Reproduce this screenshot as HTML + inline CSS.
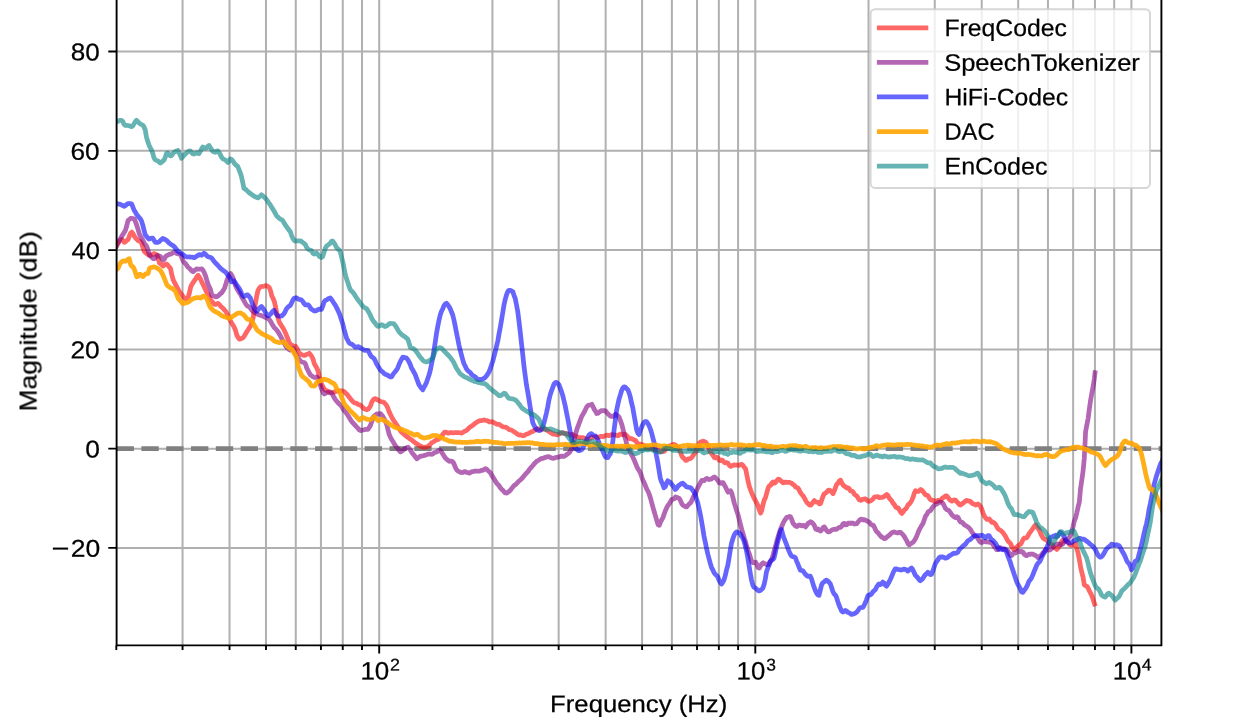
<!DOCTYPE html>
<html><head><meta charset="utf-8"><title>Frequency response</title>
<style>html,body{margin:0;padding:0;background:#fff}svg{display:block}text{font-family:"Liberation Sans",sans-serif;fill:#000;stroke:#000;stroke-width:0.25px}</style></head><body>
<svg width="1244" height="720" viewBox="0 0 1244 720">
<rect width="1244" height="720" fill="#fff"/>
<defs><clipPath id="ax"><rect x="116.6" y="-10" width="1044.8000000000002" height="655.4"/></clipPath></defs>
<path d="M182.55 -5V645.4M229.53 -5V645.4M265.98 -5V645.4M295.76 -5V645.4M320.94 -5V645.4M342.75 -5V645.4M361.99 -5V645.4M379.20 -5V645.4M492.42 -5V645.4M558.65 -5V645.4M605.63 -5V645.4M642.08 -5V645.4M671.86 -5V645.4M697.04 -5V645.4M718.85 -5V645.4M738.09 -5V645.4M755.30 -5V645.4M868.52 -5V645.4M934.75 -5V645.4M981.73 -5V645.4M1018.18 -5V645.4M1047.96 -5V645.4M1073.14 -5V645.4M1094.95 -5V645.4M1114.19 -5V645.4M1131.40 -5V645.4M116.6 51.57H1161.4M116.6 150.84H1161.4M116.6 250.11H1161.4M116.6 349.38H1161.4M116.6 448.65H1161.4M116.6 547.92H1161.4" stroke="#b0b0b0" stroke-width="2.0" fill="none"/>
<path d="M116.6 448.55H1161.4" stroke="#808080" stroke-width="4.7" stroke-dasharray="17.35 7.46" fill="none" clip-path="url(#ax)"/>
<g clip-path="url(#ax)" fill="none" stroke-linejoin="round" stroke-linecap="butt">
<path d="M115.6,248.0 116.8,245.3 118.1,243.5 119.3,241.4 120.6,240.4 121.8,239.4 123.1,240.8 124.3,242.3 125.6,241.6 126.8,240.4 128.1,239.5 129.3,236.3 130.6,233.3 131.8,232.1 133.1,233.8 134.3,236.2 135.6,238.0 136.8,239.2 138.1,240.6 139.3,241.2 140.6,241.5 141.8,243.8 143.1,248.0 144.3,251.4 145.6,252.7 146.8,253.7 148.1,254.8 149.3,255.2 150.6,255.5 151.8,254.8 153.1,253.8 154.3,253.7 155.6,254.3 156.8,254.7 158.1,257.8 159.3,262.8 160.6,263.8 161.8,264.8 163.1,266.0 164.3,265.1 165.6,264.0 166.8,264.0 168.1,265.5 169.3,267.0 170.6,268.7 171.8,274.7 173.1,279.6 174.3,282.2 175.6,284.6 176.8,286.8 178.1,289.3 179.3,291.5 180.6,293.1 181.8,294.8 183.1,296.5 184.3,297.9 185.6,298.9 186.8,298.1 188.1,297.4 189.3,293.5 190.6,287.2 191.8,284.6 193.1,282.6 194.3,280.7 195.6,279.0 196.8,276.8 198.1,275.2 199.3,277.0 200.6,279.2 201.8,282.1 203.1,284.5 204.3,287.2 205.6,289.9 206.8,292.5 208.1,295.0 209.3,297.5 210.6,299.8 211.8,301.5 213.1,302.8 214.3,304.4 215.6,304.4 216.8,303.8 218.1,303.4 219.3,304.5 220.6,306.1 221.8,307.3 223.1,308.4 224.3,309.8 225.6,311.2 226.8,313.0 228.1,315.6 229.3,318.5 230.6,321.0 231.8,323.2 233.1,325.3 234.3,327.4 235.6,330.6 236.8,335.1 238.1,337.5 239.3,339.1 240.6,338.9 241.8,338.2 243.1,337.7 244.3,336.0 245.6,333.8 246.8,331.8 248.1,329.7 249.3,327.8 250.6,325.9 251.8,322.0 253.1,318.0 254.3,310.1 255.6,302.2 256.8,295.8 258.1,290.1 259.3,288.1 260.6,286.8 261.8,286.4 263.1,286.5 264.3,286.2 265.6,285.6 266.8,285.9 268.1,286.5 269.3,287.5 270.6,291.0 271.8,295.9 273.1,298.5 274.3,301.4 275.6,307.0 276.8,313.5 278.1,318.1 279.3,322.2 280.6,324.3 281.8,326.2 283.1,328.2 284.3,330.5 285.6,333.2 286.8,336.3 288.1,339.3 289.3,342.4 290.6,344.6 291.8,345.0 293.1,345.9 294.3,346.7 295.6,346.2 296.8,348.0 298.1,351.2 299.3,353.2 300.6,353.9 301.8,354.8 303.1,355.1 304.3,355.3 305.6,355.1 306.8,354.3 308.1,354.0 309.3,353.3 310.6,354.8 311.8,356.5 313.1,359.3 314.3,363.6 315.6,366.0 316.8,367.9 318.1,371.4 319.3,376.6 320.6,381.4 321.8,384.7 323.1,386.9 324.3,389.2 325.6,390.0 326.8,390.7 328.1,391.4 329.3,391.7 330.6,392.2 331.8,392.5 333.1,392.4 334.3,392.1 335.6,391.5 336.8,391.2 338.1,391.1 339.3,390.9 340.6,390.9 341.8,390.8 343.1,391.0 344.3,391.7 345.6,393.1 346.8,394.1 348.1,395.7 349.3,397.3 350.6,398.9 351.8,400.4 353.1,401.8 354.3,402.8 355.6,403.0 356.8,403.5 358.1,404.4 359.3,404.8 360.6,405.3 361.8,406.5 363.1,407.9 364.3,408.9 365.6,409.4 366.8,409.6 368.1,409.3 369.3,407.8 370.6,405.6 371.8,402.0 373.1,399.9 374.3,398.9 375.6,398.7 376.8,399.5 378.1,400.1 379.3,400.8 380.6,401.4 381.8,401.8 383.1,402.1 384.3,402.7 385.6,404.2 386.8,405.9 388.1,408.8 389.3,412.1 390.6,414.8 391.8,417.2 393.1,419.7 394.3,421.4 395.6,423.3 396.8,425.3 398.1,427.0 399.3,428.8 400.6,431.0 401.8,432.2 403.1,433.4 404.3,434.6 405.6,435.6 406.8,436.7 408.1,437.4 409.3,438.4 410.6,439.2 411.8,440.0 413.1,441.1 414.3,442.2 415.6,443.2 416.8,443.8 418.1,444.7 419.3,445.5 420.6,445.9 421.8,446.7 423.1,447.1 424.3,447.3 425.6,447.0 426.8,446.7 428.1,446.4 429.3,445.4 430.6,444.0 431.8,442.7 433.1,442.0 434.3,441.3 435.6,440.2 436.8,439.7 438.1,439.6 439.3,438.7 440.6,437.5 441.8,435.9 443.1,433.9 444.3,432.4 445.6,432.2 446.8,432.5 448.1,433.1 449.3,432.9 450.6,432.6 451.8,432.7 453.1,432.8 454.3,432.7 455.6,432.5 456.8,432.5 458.1,432.7 459.3,432.7 460.6,433.0 461.8,433.2 463.1,432.2 464.3,431.4 465.6,430.8 466.8,430.2 468.1,429.0 469.3,427.7 470.6,426.7 471.8,425.9 473.1,425.2 474.3,423.9 475.6,423.1 476.8,422.2 478.1,421.4 479.3,420.8 480.6,420.5 481.8,420.5 483.1,420.2 484.3,420.0 485.6,420.3 486.8,420.5 488.1,421.1 489.3,421.9 490.6,421.9 491.8,421.7 493.1,422.1 494.3,422.8 495.6,423.5 496.8,424.2 498.1,424.3 499.3,424.3 500.6,425.3 501.8,426.3 503.1,426.8 504.3,427.0 505.6,427.2 506.8,427.7 508.1,428.7 509.3,429.7 510.6,429.9 511.8,430.2 513.1,431.1 514.3,431.9 515.6,432.8 516.8,433.7 518.1,434.7 519.3,435.0 520.6,434.8 521.8,435.4 523.1,435.8 524.3,435.5 525.6,434.6 526.8,434.0 528.1,433.7 529.3,433.1 530.6,432.3 531.8,431.8 533.1,431.1 534.3,430.4 535.6,429.8 536.8,429.0 538.1,428.6 539.3,429.2 540.6,429.2 541.8,429.3 543.1,429.2 544.3,428.8 545.6,429.1 546.8,430.1 548.1,431.0 549.3,431.7 550.6,432.5 551.8,433.4 553.1,434.1 554.3,433.9 555.6,434.4 556.8,434.8 558.1,434.3 559.3,433.9 560.6,433.5 561.8,432.9 563.1,432.8 564.3,433.3 565.6,433.8 566.8,433.5 568.1,434.3 569.3,435.2 570.6,434.8 571.8,434.3 573.1,434.7 574.3,435.9 575.6,436.2 576.8,436.6 578.1,437.4 579.3,437.7 580.6,437.7 581.8,437.5 583.1,437.5 584.3,438.2 585.6,438.7 586.8,439.0 588.1,439.3 589.3,439.3 590.6,438.1 591.8,437.0 593.1,437.3 594.3,437.2 595.6,436.9 596.8,437.0 598.1,437.5 599.3,437.1 600.6,436.3 601.8,436.4 603.1,436.8 604.3,436.1 605.6,435.5 606.8,435.2 608.1,435.4 609.3,435.7 610.6,434.9 611.8,434.7 613.1,434.7 614.3,435.0 615.6,435.0 616.8,435.5 618.1,435.9 619.3,434.6 620.6,434.0 621.8,434.6 623.1,434.8 624.3,434.1 625.6,434.5 626.8,435.8 628.1,437.2 629.3,438.6 630.6,438.5 631.8,438.6 633.1,439.5 634.3,440.0 635.6,440.5 636.8,442.5 638.1,443.7 639.3,444.0 640.6,444.1 641.8,444.5 643.1,444.9 644.3,445.9 645.6,447.4 646.8,447.2 648.1,447.1 649.3,447.4 650.6,448.0 651.8,448.3 653.1,448.5 654.3,449.7 655.6,449.8 656.8,449.6 658.1,449.9 659.3,450.9 660.6,451.8 661.8,451.1 663.1,451.6 664.3,451.2 665.6,449.6 666.8,447.9 668.1,446.4 669.3,446.0 670.6,445.6 671.8,445.5 673.1,444.3 674.3,444.5 675.6,445.1 676.8,446.3 678.1,447.4 679.3,449.3 680.6,452.7 681.8,456.0 683.1,457.8 684.3,458.6 685.6,460.4 686.8,460.2 688.1,458.9 689.3,458.8 690.6,458.4 691.8,457.3 693.1,455.5 694.3,453.9 695.6,452.1 696.8,449.0 698.1,445.9 699.3,443.4 700.6,441.9 701.8,441.9 703.1,441.2 704.3,441.6 705.6,442.2 706.8,443.9 708.1,446.8 709.3,450.4 710.6,452.5 711.8,453.8 713.1,455.5 714.3,457.7 715.6,457.9 716.8,457.1 718.1,458.1 719.3,460.2 720.6,460.7 721.8,460.0 723.1,461.0 724.3,462.5 725.6,462.9 726.8,462.7 728.1,463.4 729.3,465.4 730.6,466.4 731.8,465.8 733.1,465.2 734.3,464.9 735.6,465.2 736.8,465.0 738.1,465.2 739.3,465.3 740.6,464.5 741.8,464.3 743.1,465.7 744.3,467.4 745.6,468.8 746.8,474.9 748.1,481.4 749.3,486.2 750.6,490.0 751.8,493.2 753.1,496.1 754.3,498.7 755.6,501.0 756.8,503.3 758.1,506.1 759.3,509.9 760.6,513.0 761.8,510.2 763.1,504.2 764.3,500.0 765.6,497.2 766.8,492.9 768.1,488.1 769.3,485.7 770.6,485.4 771.8,483.0 773.1,481.9 774.3,483.2 775.6,482.4 776.8,480.7 778.1,479.2 779.3,479.3 780.6,480.6 781.8,481.6 783.1,482.9 784.3,482.4 785.6,482.1 786.8,482.4 788.1,482.4 789.3,482.4 790.6,482.7 791.8,483.4 793.1,484.5 794.3,485.2 795.6,487.1 796.8,487.5 798.1,488.2 799.3,490.3 800.6,492.8 801.8,494.5 803.1,495.9 804.3,497.7 805.6,500.4 806.8,502.4 808.1,503.7 809.3,505.0 810.6,505.2 811.8,504.1 813.1,502.0 814.3,500.6 815.6,501.7 816.8,502.2 818.1,502.3 819.3,503.9 820.6,503.5 821.8,499.7 823.1,496.1 824.3,493.6 825.6,493.1 826.8,492.0 828.1,490.4 829.3,490.1 830.6,490.8 831.8,492.1 833.1,493.6 834.3,490.9 835.6,487.2 836.8,484.2 838.1,483.1 839.3,480.8 840.6,480.2 841.8,482.9 843.1,485.0 844.3,486.2 845.6,486.9 846.8,488.0 848.1,487.8 849.3,489.0 850.6,490.9 851.8,491.0 853.1,491.9 854.3,494.2 855.6,495.3 856.8,496.0 858.1,498.0 859.3,499.9 860.6,500.4 861.8,499.8 863.1,499.3 864.3,498.9 865.6,498.8 866.8,500.1 868.1,501.1 869.3,501.3 870.6,501.0 871.8,499.9 873.1,498.9 874.3,497.3 875.6,496.8 876.8,496.9 878.1,496.7 879.3,497.7 880.6,497.5 881.8,497.4 883.1,497.1 884.3,496.5 885.6,495.3 886.8,494.5 888.1,495.8 889.3,498.1 890.6,499.6 891.8,501.1 893.1,503.3 894.3,504.5 895.6,506.7 896.8,507.9 898.1,507.8 899.3,509.8 900.6,512.2 901.8,513.5 903.1,512.0 904.3,509.9 905.6,509.1 906.8,507.4 908.1,504.7 909.3,503.9 910.6,502.4 911.8,500.4 913.1,497.2 914.3,493.2 915.6,490.7 916.8,491.4 918.1,491.5 919.3,490.6 920.6,489.5 921.8,490.3 923.1,491.6 924.3,493.3 925.6,494.9 926.8,495.0 928.1,495.9 929.3,498.1 930.6,499.8 931.8,500.0 933.1,500.5 934.3,500.5 935.6,501.6 936.8,501.6 938.1,500.2 939.3,500.9 940.6,501.0 941.8,498.8 943.1,497.6 944.3,497.3 945.6,495.8 946.8,495.9 948.1,497.5 949.3,499.2 950.6,500.5 951.8,501.1 953.1,500.4 954.3,499.8 955.6,500.2 956.8,501.8 958.1,503.0 959.3,504.7 960.6,505.0 961.8,504.0 963.1,503.0 964.3,502.2 965.6,500.9 966.8,500.3 968.1,501.1 969.3,501.1 970.6,501.5 971.8,503.1 973.1,503.8 974.3,504.3 975.6,505.1 976.8,504.5 978.1,504.0 979.3,505.0 980.6,506.5 981.8,509.2 983.1,513.2 984.3,515.9 985.6,517.8 986.8,519.4 988.1,519.4 989.3,519.0 990.6,520.8 991.8,522.3 993.1,522.2 994.3,523.0 995.6,524.4 996.8,526.7 998.1,528.8 999.3,529.7 1000.6,530.3 1001.8,531.4 1003.1,532.8 1004.3,534.6 1005.6,536.5 1006.8,539.1 1008.1,541.2 1009.3,542.3 1010.6,543.8 1011.8,546.5 1013.1,548.8 1014.3,549.5 1015.6,549.3 1016.8,546.9 1018.1,545.7 1019.3,544.9 1020.6,544.2 1021.8,542.3 1023.1,539.4 1024.3,538.0 1025.6,538.1 1026.8,537.7 1028.1,535.6 1029.3,533.3 1030.6,531.7 1031.8,530.0 1033.1,528.2 1034.3,526.3 1035.6,525.0 1036.8,527.1 1038.1,528.3 1039.3,530.2 1040.6,533.4 1041.8,535.9 1043.1,538.0 1044.3,539.1 1045.6,539.3 1046.8,540.3 1048.1,541.7 1049.3,543.4 1050.6,544.4 1051.8,544.5 1053.1,546.2 1054.3,547.7 1055.6,548.2 1056.8,549.4 1058.1,548.1 1059.3,546.2 1060.6,544.2 1061.8,541.2 1063.1,539.7 1064.3,540.6 1065.6,541.5 1066.8,541.7 1068.1,542.3 1069.3,544.2 1070.6,545.1 1071.8,545.2 1073.1,545.2 1074.3,544.4 1075.6,543.8 1076.8,548.3 1078.1,553.2 1079.3,559.3 1080.6,566.9 1081.8,572.4 1083.1,577.4 1084.3,585.0 1085.6,585.7 1086.8,586.3 1088.1,587.9 1089.3,590.9 1090.6,593.2 1091.8,595.6 1093.1,599.3 1094.3,603.2 1095.3,606.3" stroke="#ff0000" stroke-opacity="0.6" stroke-width="4.75"/>
<path d="M115.6,248.3 116.8,244.4 118.1,242.3 119.3,240.4 120.6,238.3 121.8,236.1 123.1,234.2 124.3,232.3 125.6,229.8 126.8,225.5 128.1,220.4 129.3,219.6 130.6,218.4 131.8,218.3 133.1,218.7 134.3,218.9 135.6,222.1 136.8,225.4 138.1,229.4 139.3,233.8 140.6,236.5 141.8,238.4 143.1,240.9 144.3,243.2 145.6,244.9 146.8,246.6 148.1,250.5 149.3,254.5 150.6,256.2 151.8,257.3 153.1,258.6 154.3,258.7 155.6,257.4 156.8,255.8 158.1,255.6 159.3,256.0 160.6,256.6 161.8,258.2 163.1,260.0 164.3,259.2 165.6,256.5 166.8,255.6 168.1,255.0 169.3,254.4 170.6,254.1 171.8,253.6 173.1,252.6 174.3,252.1 175.6,252.6 176.8,253.5 178.1,253.9 179.3,254.0 180.6,254.5 181.8,257.6 183.1,261.0 184.3,262.7 185.6,263.7 186.8,265.6 188.1,267.2 189.3,268.2 190.6,269.5 191.8,271.0 193.1,271.7 194.3,270.7 195.6,269.5 196.8,268.9 198.1,269.2 199.3,269.1 200.6,269.1 201.8,268.8 203.1,270.4 204.3,272.8 205.6,276.0 206.8,280.2 208.1,284.2 209.3,286.9 210.6,289.8 211.8,295.2 213.1,295.7 214.3,296.3 215.6,296.8 216.8,296.6 218.1,295.9 219.3,294.8 220.6,293.6 221.8,292.6 223.1,290.7 224.3,288.6 225.6,285.0 226.8,280.6 228.1,277.5 229.3,275.2 230.6,273.5 231.8,275.3 233.1,278.0 234.3,282.2 235.6,285.8 236.8,288.5 238.1,290.8 239.3,292.6 240.6,294.5 241.8,297.0 243.1,299.2 244.3,301.4 245.6,303.7 246.8,305.5 248.1,306.4 249.3,307.0 250.6,308.4 251.8,310.3 253.1,311.8 254.3,312.3 255.6,312.9 256.8,313.8 258.1,314.5 259.3,314.9 260.6,315.4 261.8,315.7 263.1,316.4 264.3,316.9 265.6,317.5 266.8,318.1 268.1,318.7 269.3,319.5 270.6,321.4 271.8,323.7 273.1,325.8 274.3,327.7 275.6,328.8 276.8,330.2 278.1,332.0 279.3,334.0 280.6,336.3 281.8,338.7 283.1,340.9 284.3,343.2 285.6,345.9 286.8,347.6 288.1,348.3 289.3,349.7 290.6,350.2 291.8,348.4 293.1,348.2 294.3,351.2 295.6,354.2 296.8,356.3 298.1,357.8 299.3,359.5 300.6,361.0 301.8,362.0 303.1,362.3 304.3,362.5 305.6,364.2 306.8,368.2 308.1,370.7 309.3,373.1 310.6,375.1 311.8,375.8 313.1,376.9 314.3,377.5 315.6,377.3 316.8,377.0 318.1,378.6 319.3,382.2 320.6,385.9 321.8,389.4 323.1,392.6 324.3,394.0 325.6,393.3 326.8,392.6 328.1,392.3 329.3,392.6 330.6,392.8 331.8,393.3 333.1,395.6 334.3,397.9 335.6,399.8 336.8,401.4 338.1,402.8 339.3,404.1 340.6,405.3 341.8,406.5 343.1,409.1 344.3,410.9 345.6,411.9 346.8,413.8 348.1,415.8 349.3,417.6 350.6,419.9 351.8,421.7 353.1,423.0 354.3,424.5 355.6,425.8 356.8,427.1 358.1,428.4 359.3,429.9 360.6,430.5 361.8,430.0 363.1,430.0 364.3,429.7 365.6,429.4 366.8,429.4 368.1,429.3 369.3,427.3 370.6,425.0 371.8,421.5 373.1,417.2 374.3,416.0 375.6,414.8 376.8,413.9 378.1,414.2 379.3,413.9 380.6,413.7 381.8,415.0 383.1,416.9 384.3,418.9 385.6,421.7 386.8,425.0 388.1,430.2 389.3,434.8 390.6,437.5 391.8,439.8 393.1,441.8 394.3,443.9 395.6,446.0 396.8,447.5 398.1,448.8 399.3,450.7 400.6,451.9 401.8,451.1 403.1,450.1 404.3,448.8 405.6,448.1 406.8,447.5 408.1,447.2 409.3,448.7 410.6,450.3 411.8,452.4 413.1,454.0 414.3,455.5 415.6,457.3 416.8,458.8 418.1,457.9 419.3,456.9 420.6,456.2 421.8,456.1 423.1,455.8 424.3,455.4 425.6,455.1 426.8,454.6 428.1,454.2 429.3,454.0 430.6,454.2 431.8,454.3 433.1,453.7 434.3,452.6 435.6,452.2 436.8,451.7 438.1,450.8 439.3,450.1 440.6,450.5 441.8,452.5 443.1,454.6 444.3,456.5 445.6,458.2 446.8,459.4 448.1,460.5 449.3,461.3 450.6,461.2 451.8,461.2 453.1,462.1 454.3,464.6 455.6,467.9 456.8,470.0 458.1,471.1 459.3,471.6 460.6,472.3 461.8,472.5 463.1,472.3 464.3,471.7 465.6,471.7 466.8,472.4 468.1,472.7 469.3,473.1 470.6,472.4 471.8,471.7 473.1,471.6 474.3,471.1 475.6,471.0 476.8,471.2 478.1,471.2 479.3,471.2 480.6,470.8 481.8,470.3 483.1,470.1 484.3,469.4 485.6,468.7 486.8,469.3 488.1,470.8 489.3,471.8 490.6,473.0 491.8,475.4 493.1,477.4 494.3,479.2 495.6,481.6 496.8,483.5 498.1,484.6 499.3,486.1 500.6,488.1 501.8,489.4 503.1,490.6 504.3,492.0 505.6,493.0 506.8,493.1 508.1,492.1 509.3,491.3 510.6,490.1 511.8,488.2 513.1,486.7 514.3,485.3 515.6,484.6 516.8,483.3 518.1,481.9 519.3,480.8 520.6,479.7 521.8,478.6 523.1,477.1 524.3,475.5 525.6,473.9 526.8,472.8 528.1,471.4 529.3,469.5 530.6,468.0 531.8,466.8 533.1,465.3 534.3,463.6 535.6,462.4 536.8,461.2 538.1,460.5 539.3,459.8 540.6,458.9 541.8,458.3 543.1,458.3 544.3,457.8 545.6,457.3 546.8,456.9 548.1,456.7 549.3,456.8 550.6,457.6 551.8,458.1 553.1,458.3 554.3,458.1 555.6,457.5 556.8,457.3 558.1,457.2 559.3,456.9 560.6,456.4 561.8,456.1 563.1,456.4 564.3,456.3 565.6,455.4 566.8,454.5 568.1,453.6 569.3,452.7 570.6,450.7 571.8,448.5 573.1,444.6 574.3,439.6 575.6,433.9 576.8,429.7 578.1,426.2 579.3,422.8 580.6,419.4 581.8,416.2 583.1,414.1 584.3,412.0 585.6,409.2 586.8,406.7 588.1,405.5 589.3,405.0 590.6,404.9 591.8,404.3 593.1,406.9 594.3,409.4 595.6,411.4 596.8,413.6 598.1,413.2 599.3,412.1 600.6,411.0 601.8,410.6 603.1,410.8 604.3,410.5 605.6,410.9 606.8,412.5 608.1,414.0 609.3,415.1 610.6,416.2 611.8,416.3 613.1,416.4 614.3,415.6 615.6,414.2 616.8,415.3 618.1,416.1 619.3,417.6 620.6,421.1 621.8,424.6 623.1,429.4 624.3,434.7 625.6,439.5 626.8,444.5 628.1,447.7 629.3,450.2 630.6,453.1 631.8,455.2 633.1,457.7 634.3,460.3 635.6,463.5 636.8,466.5 638.1,469.2 639.3,470.9 640.6,473.5 641.8,477.1 643.1,480.7 644.3,482.9 645.6,486.1 646.8,489.2 648.1,491.4 649.3,494.5 650.6,498.5 651.8,503.1 653.1,507.9 654.3,512.0 655.6,516.4 656.8,520.6 658.1,524.7 659.3,525.3 660.6,522.0 661.8,519.6 663.1,517.3 664.3,513.6 665.6,510.2 666.8,507.5 668.1,505.2 669.3,503.7 670.6,501.6 671.8,499.4 673.1,499.2 674.3,498.8 675.6,496.9 676.8,497.3 678.1,497.9 679.3,498.4 680.6,500.9 681.8,503.8 683.1,505.4 684.3,506.0 685.6,506.8 686.8,506.8 688.1,505.1 689.3,503.9 690.6,502.8 691.8,500.6 693.1,497.4 694.3,495.3 695.6,493.0 696.8,489.9 698.1,487.0 699.3,484.8 700.6,482.3 701.8,480.4 703.1,480.4 704.3,480.6 705.6,479.0 706.8,478.4 708.1,479.0 709.3,479.5 710.6,479.2 711.8,478.7 713.1,477.7 714.3,476.9 715.6,477.8 716.8,479.2 718.1,480.7 719.3,482.8 720.6,483.3 721.8,482.7 723.1,482.7 724.3,484.8 725.6,487.2 726.8,489.6 728.1,492.2 729.3,491.6 730.6,490.8 731.8,493.3 733.1,498.1 734.3,503.1 735.6,507.3 736.8,511.3 738.1,515.1 739.3,519.8 740.6,525.1 741.8,529.7 743.1,533.9 744.3,538.2 745.6,542.1 746.8,546.5 748.1,550.7 749.3,553.8 750.6,558.1 751.8,561.8 753.1,562.7 754.3,562.6 755.6,562.2 756.8,564.4 758.1,567.5 759.3,568.0 760.6,565.8 761.8,563.8 763.1,562.8 764.3,563.7 765.6,563.9 766.8,564.8 768.1,564.7 769.3,562.6 770.6,561.0 771.8,558.9 773.1,554.9 774.3,550.4 775.6,546.0 776.8,541.1 778.1,536.8 779.3,533.0 780.6,529.0 781.8,526.2 783.1,523.2 784.3,520.8 785.6,519.0 786.8,517.4 788.1,517.2 789.3,516.4 790.6,516.8 791.8,519.7 793.1,523.4 794.3,524.7 795.6,526.1 796.8,526.5 798.1,525.5 799.3,525.0 800.6,525.3 801.8,525.9 803.1,525.4 804.3,525.6 805.6,526.9 806.8,525.3 808.1,523.2 809.3,522.7 810.6,521.7 811.8,522.4 813.1,523.7 814.3,525.4 815.6,529.0 816.8,529.5 818.1,528.9 819.3,530.4 820.6,531.0 821.8,529.8 823.1,527.6 824.3,526.9 825.6,528.9 826.8,530.8 828.1,531.8 829.3,531.9 830.6,531.0 831.8,530.0 833.1,529.6 834.3,529.2 835.6,529.4 836.8,529.1 838.1,528.0 839.3,527.4 840.6,527.3 841.8,526.1 843.1,523.7 844.3,523.3 845.6,524.9 846.8,524.6 848.1,523.1 849.3,523.1 850.6,523.5 851.8,523.0 853.1,523.1 854.3,524.0 855.6,523.9 856.8,523.7 858.1,521.9 859.3,520.4 860.6,519.4 861.8,519.1 863.1,520.0 864.3,519.6 865.6,520.2 866.8,521.1 868.1,521.5 869.3,522.2 870.6,524.0 871.8,525.0 873.1,525.0 874.3,527.0 875.6,529.9 876.8,531.8 878.1,532.8 879.3,534.5 880.6,536.0 881.8,537.2 883.1,537.6 884.3,538.6 885.6,538.4 886.8,537.2 888.1,536.0 889.3,535.2 890.6,533.9 891.8,532.9 893.1,532.2 894.3,531.9 895.6,532.4 896.8,532.8 898.1,532.8 899.3,532.3 900.6,532.4 901.8,533.6 903.1,534.9 904.3,536.5 905.6,538.8 906.8,540.9 908.1,543.9 909.3,544.9 910.6,543.7 911.8,543.1 913.1,542.1 914.3,540.7 915.6,538.6 916.8,536.0 918.1,532.5 919.3,529.7 920.6,527.4 921.8,525.3 923.1,523.3 924.3,519.7 925.6,516.0 926.8,514.5 928.1,512.0 929.3,511.1 930.6,510.5 931.8,508.5 933.1,506.7 934.3,505.3 935.6,504.4 936.8,504.2 938.1,502.8 939.3,502.1 940.6,502.2 941.8,502.7 943.1,503.7 944.3,506.0 945.6,508.6 946.8,509.7 948.1,510.0 949.3,511.1 950.6,512.9 951.8,514.7 953.1,516.0 954.3,517.0 955.6,517.6 956.8,516.6 958.1,517.5 959.3,520.3 960.6,522.0 961.8,522.0 963.1,523.2 964.3,524.8 965.6,525.5 966.8,526.3 968.1,527.1 969.3,528.2 970.6,529.8 971.8,531.9 973.1,533.6 974.3,535.7 975.6,536.1 976.8,536.9 978.1,538.9 979.3,541.0 980.6,542.4 981.8,542.5 983.1,541.5 984.3,541.4 985.6,541.8 986.8,541.6 988.1,542.1 989.3,542.2 990.6,542.5 991.8,543.0 993.1,544.6 994.3,546.8 995.6,548.1 996.8,549.7 998.1,549.4 999.3,547.6 1000.6,547.6 1001.8,548.6 1003.1,549.1 1004.3,549.0 1005.6,549.3 1006.8,550.2 1008.1,551.1 1009.3,553.8 1010.6,555.5 1011.8,555.6 1013.1,553.5 1014.3,552.6 1015.6,553.0 1016.8,551.9 1018.1,550.6 1019.3,551.1 1020.6,551.9 1021.8,551.5 1023.1,552.3 1024.3,554.3 1025.6,555.2 1026.8,555.7 1028.1,554.7 1029.3,554.1 1030.6,554.3 1031.8,554.0 1033.1,554.2 1034.3,554.9 1035.6,555.5 1036.8,556.5 1038.1,557.6 1039.3,556.5 1040.6,555.8 1041.8,554.6 1043.1,552.7 1044.3,551.5 1045.6,549.7 1046.8,549.3 1048.1,549.9 1049.3,550.2 1050.6,549.4 1051.8,548.3 1053.1,547.4 1054.3,545.4 1055.6,544.6 1056.8,544.6 1058.1,543.8 1059.3,544.0 1060.6,544.7 1061.8,544.6 1063.1,543.7 1064.3,541.9 1065.6,539.9 1066.8,539.4 1068.1,538.6 1069.3,537.5 1070.6,534.6 1071.8,531.4 1073.1,526.5 1074.3,521.1 1075.6,517.8 1076.8,513.0 1078.1,506.9 1079.3,502.1 1080.6,488.1 1081.8,480.1 1083.1,470.9 1084.3,458.2 1085.6,431.6 1086.8,425.3 1088.1,418.6 1089.3,409.1 1090.6,400.1 1091.8,393.3 1093.1,386.8 1094.3,378.8 1095.3,370.4" stroke="#800080" stroke-opacity="0.6" stroke-width="4.75"/>
<path d="M116.5,203.3 117.8,203.8 119.0,204.2 120.3,204.4 121.5,205.0 122.8,205.6 124.0,206.3 125.3,205.6 126.5,204.6 127.8,203.6 129.0,203.5 130.3,203.6 131.5,203.8 132.8,206.7 134.0,210.0 135.3,212.0 136.5,214.2 137.8,215.8 139.0,217.4 140.3,218.8 141.5,220.9 142.8,225.2 144.0,230.0 145.3,234.8 146.5,236.4 147.8,237.8 149.0,239.1 150.3,238.6 151.5,238.2 152.8,238.2 154.0,240.2 155.3,242.3 156.5,242.4 157.8,242.4 159.0,241.9 160.3,240.6 161.5,239.5 162.8,238.4 164.0,239.0 165.3,239.6 166.5,240.4 167.8,241.6 169.0,243.0 170.3,243.9 171.5,244.7 172.8,245.5 174.0,246.4 175.3,247.9 176.5,249.6 177.8,251.2 179.0,251.9 180.3,252.8 181.5,253.8 182.8,254.6 184.0,255.4 185.3,256.4 186.5,256.9 187.8,257.0 189.0,256.9 190.3,257.1 191.5,257.2 192.8,257.2 194.0,257.7 195.3,257.3 196.5,256.2 197.8,255.6 199.0,254.6 200.3,254.6 201.5,255.3 202.8,254.4 204.0,253.2 205.3,254.0 206.5,255.5 207.8,256.6 209.0,257.0 210.3,257.3 211.5,258.0 212.8,259.6 214.0,261.3 215.3,262.8 216.5,264.0 217.8,265.3 219.0,266.7 220.3,268.1 221.5,269.2 222.8,270.2 224.0,271.1 225.3,271.9 226.5,273.3 227.8,275.0 229.0,276.7 230.3,278.5 231.5,281.7 232.8,281.1 234.0,281.0 235.3,282.7 236.5,284.8 237.8,286.5 239.0,288.1 240.3,290.5 241.5,293.2 242.8,295.8 244.0,296.6 245.3,295.8 246.5,294.9 247.8,294.9 249.0,296.4 250.3,297.8 251.5,301.2 252.8,304.8 254.0,307.4 255.3,309.5 256.5,311.5 257.8,310.0 259.0,308.6 260.3,307.4 261.5,306.5 262.8,308.1 264.0,309.9 265.3,312.1 266.5,314.1 267.8,315.8 269.0,315.6 270.3,314.2 271.5,313.0 272.8,311.3 274.0,310.2 275.3,312.4 276.5,314.4 277.8,316.0 279.0,316.1 280.3,316.2 281.5,316.0 282.8,315.0 284.0,313.7 285.3,311.3 286.5,308.8 287.8,307.3 289.0,306.2 290.3,305.4 291.5,303.1 292.8,300.1 294.0,298.4 295.3,297.8 296.5,297.8 297.8,298.7 299.0,299.5 300.3,299.6 301.5,300.0 302.8,301.5 304.0,303.4 305.3,304.9 306.5,305.0 307.8,304.7 309.0,305.6 310.3,307.8 311.5,309.4 312.8,309.9 314.0,310.8 315.3,311.0 316.5,310.6 317.8,309.7 319.0,309.2 320.3,309.1 321.5,309.3 322.8,306.1 324.0,302.2 325.3,300.4 326.5,299.9 327.8,299.1 329.0,298.4 330.3,297.9 331.5,299.5 332.8,301.4 334.0,303.4 335.3,305.2 336.5,307.4 337.8,310.1 339.0,312.7 340.3,316.2 341.5,320.1 342.8,324.0 344.0,329.1 345.3,333.7 346.5,338.0 347.8,340.3 349.0,342.7 350.3,343.8 351.5,344.0 352.8,344.9 354.0,346.0 355.3,347.1 356.5,347.1 357.8,346.6 359.0,346.8 360.3,347.9 361.5,348.4 362.8,349.2 364.0,350.1 365.3,350.4 366.5,350.4 367.8,350.4 369.0,352.2 370.3,354.9 371.5,356.7 372.8,357.5 374.0,358.5 375.3,360.9 376.5,363.7 377.8,365.9 379.0,367.8 380.3,369.9 381.5,371.1 382.8,372.0 384.0,373.3 385.3,374.3 386.5,374.7 387.8,375.4 389.0,376.1 390.3,376.9 391.5,376.9 392.8,374.8 394.0,373.0 395.3,371.6 396.5,370.1 397.8,367.8 399.0,364.5 400.3,361.6 401.5,359.4 402.8,357.2 404.0,357.3 405.3,357.7 406.5,358.1 407.8,359.8 409.0,361.9 410.3,364.6 411.5,368.0 412.8,370.1 414.0,372.4 415.3,374.7 416.5,378.2 417.8,381.6 419.0,384.9 420.3,386.6 421.5,388.4 422.8,389.7 424.0,387.3 425.3,385.0 426.5,382.4 427.8,378.6 429.0,375.0 430.3,370.4 431.5,364.2 432.8,357.7 434.0,350.2 435.3,341.8 436.5,333.4 437.8,326.3 439.0,320.2 440.3,314.7 441.5,311.3 442.8,308.7 444.0,305.6 445.3,303.9 446.5,303.2 447.8,304.8 449.0,306.5 450.3,308.8 451.5,312.0 452.8,315.2 454.0,320.3 455.3,326.5 456.5,332.9 457.8,339.1 459.0,345.3 460.3,350.7 461.5,355.1 462.8,360.0 464.0,363.7 465.3,366.3 466.5,368.9 467.8,370.7 469.0,371.6 470.3,372.6 471.5,374.2 472.8,375.5 474.0,376.1 475.3,376.9 476.5,378.2 477.8,379.5 479.0,379.7 480.3,379.3 481.5,379.5 482.8,379.1 484.0,378.3 485.3,377.3 486.5,375.8 487.8,374.0 489.0,371.9 490.3,368.7 491.5,364.9 492.8,361.3 494.0,356.4 495.3,351.3 496.5,346.4 497.8,341.0 499.0,334.0 500.3,327.3 501.5,320.1 502.8,312.3 504.0,304.9 505.3,299.1 506.5,294.9 507.8,291.5 509.0,290.3 510.3,290.3 511.5,291.0 512.8,291.6 514.0,295.3 515.3,298.7 516.5,304.9 517.8,311.9 519.0,321.4 520.3,332.5 521.5,343.6 522.8,355.1 524.0,366.4 525.3,376.2 526.5,385.2 527.8,392.4 529.0,399.4 530.3,407.9 531.5,415.6 532.8,422.7 534.0,425.2 535.3,427.8 536.5,429.4 537.8,430.2 539.0,430.6 540.3,430.4 541.5,429.2 542.8,426.2 544.0,423.0 545.3,417.7 546.5,412.7 547.8,406.5 549.0,399.7 550.3,394.5 551.5,390.8 552.8,387.4 554.0,384.1 555.3,382.6 556.5,382.4 557.8,383.6 559.0,384.8 560.3,388.3 561.5,391.6 562.8,395.7 564.0,400.7 565.3,406.2 566.5,412.6 567.8,418.8 569.0,425.4 570.3,432.2 571.5,438.0 572.8,444.1 574.0,446.5 575.3,447.8 576.5,449.2 577.8,450.2 579.0,450.7 580.3,450.2 581.5,449.7 582.8,448.4 584.0,445.2 585.3,442.7 586.5,439.9 587.8,437.2 589.0,435.1 590.3,433.9 591.5,433.7 592.8,434.8 594.0,435.7 595.3,435.9 596.5,437.3 597.8,439.6 599.0,442.7 600.3,445.4 601.5,448.2 602.8,451.0 604.0,453.9 605.3,456.7 606.5,457.5 607.8,457.7 609.0,455.5 610.3,453.8 611.5,449.0 612.8,441.7 614.0,430.6 615.3,420.5 616.5,411.1 617.8,404.8 619.0,399.3 620.3,395.1 621.5,391.0 622.8,387.9 624.0,386.8 625.3,387.3 626.5,388.5 627.8,389.7 629.0,392.6 630.3,396.9 631.5,402.7 632.8,407.9 634.0,414.8 635.3,422.0 636.5,429.2 637.8,433.0 639.0,434.5 640.3,430.4 641.5,427.6 642.8,424.4 644.0,422.4 645.3,421.5 646.5,421.6 647.8,423.4 649.0,425.5 650.3,428.8 651.5,432.5 652.8,437.6 654.0,442.1 655.3,448.8 656.5,456.0 657.8,462.6 659.0,470.1 660.3,478.2 661.5,481.8 662.8,484.6 664.0,487.8 665.3,486.7 666.5,483.3 667.8,480.8 669.0,481.7 670.3,482.2 671.5,484.2 672.8,485.6 674.0,487.3 675.3,489.5 676.5,488.4 677.8,486.4 679.0,485.4 680.3,484.3 681.5,483.6 682.8,483.2 684.0,484.5 685.3,485.5 686.5,486.8 687.8,487.2 689.0,487.4 690.3,487.5 691.5,488.6 692.8,490.5 694.0,491.9 695.3,494.7 696.5,499.1 697.8,503.0 699.0,508.3 700.3,514.2 701.5,520.9 702.8,528.7 704.0,536.2 705.3,542.3 706.5,548.3 707.8,554.0 709.0,558.5 710.3,563.4 711.5,567.3 712.8,569.8 714.0,572.6 715.3,574.4 716.5,575.3 717.8,576.9 719.0,580.2 720.3,582.6 721.5,584.1 722.8,582.2 724.0,579.9 725.3,575.4 726.5,569.9 727.8,565.5 729.0,558.3 730.3,550.0 731.5,543.2 732.8,539.0 734.0,535.5 735.3,533.1 736.5,531.9 737.8,532.4 739.0,532.7 740.3,533.9 741.5,536.4 742.8,538.1 744.0,541.2 745.3,545.9 746.5,550.9 747.8,557.8 749.0,565.3 750.3,573.4 751.5,580.0 752.8,585.2 754.0,587.4 755.3,587.9 756.5,589.1 757.8,590.3 759.0,590.9 760.3,590.5 761.5,589.4 762.8,588.2 764.0,584.9 765.3,579.0 766.5,571.7 767.8,568.1 769.0,565.3 770.3,561.8 771.5,560.2 772.8,559.6 774.0,558.2 775.3,552.8 776.5,547.3 777.8,541.3 779.0,537.0 780.3,531.6 781.5,529.5 782.8,534.4 784.0,538.2 785.3,541.3 786.5,544.5 787.8,548.1 789.0,551.1 790.3,554.0 791.5,556.0 792.8,556.6 794.0,556.8 795.3,557.5 796.5,560.8 797.8,563.9 799.0,567.0 800.3,570.1 801.5,570.4 802.8,570.8 804.0,572.3 805.3,574.1 806.5,575.5 807.8,576.4 809.0,576.2 810.3,576.2 811.5,578.8 812.8,583.2 814.0,586.9 815.3,590.4 816.5,592.9 817.8,594.8 819.0,595.3 820.3,590.1 821.5,585.2 822.8,582.7 824.0,582.0 825.3,580.8 826.5,580.1 827.8,581.0 829.0,582.2 830.3,583.8 831.5,587.2 832.8,591.3 834.0,593.8 835.3,595.0 836.5,597.2 837.8,601.5 839.0,605.0 840.3,608.1 841.5,610.9 842.8,612.0 844.0,611.5 845.3,610.5 846.5,610.9 847.8,612.3 849.0,612.7 850.3,613.6 851.5,614.4 852.8,614.1 854.0,613.8 855.3,613.2 856.5,612.2 857.8,610.9 859.0,608.9 860.3,607.5 861.5,607.5 862.8,607.4 864.0,605.6 865.3,602.8 866.5,599.8 867.8,595.9 869.0,594.9 870.3,594.9 871.5,593.9 872.8,592.0 874.0,590.8 875.3,589.7 876.5,587.3 877.8,585.3 879.0,583.9 880.3,584.7 881.5,583.8 882.8,582.1 884.0,583.0 885.3,585.2 886.5,586.2 887.8,584.2 889.0,582.0 890.3,579.5 891.5,576.8 892.8,573.7 894.0,570.9 895.3,568.8 896.5,568.9 897.8,569.5 899.0,569.6 900.3,569.8 901.5,570.0 902.8,569.5 904.0,569.1 905.3,569.3 906.5,570.1 907.8,571.1 909.0,570.1 910.3,568.8 911.5,567.9 912.8,569.7 914.0,572.2 915.3,575.2 916.5,576.5 917.8,577.8 919.0,579.6 920.3,580.8 921.5,579.8 922.8,578.5 924.0,576.5 925.3,574.8 926.5,573.7 927.8,572.2 929.0,573.2 930.3,574.6 931.5,574.5 932.8,571.2 934.0,567.5 935.3,563.7 936.5,561.7 937.8,560.0 939.0,557.9 940.3,556.9 941.5,557.1 942.8,556.8 944.0,557.4 945.3,558.2 946.5,557.9 947.8,557.3 949.0,556.0 950.3,555.4 951.5,554.7 952.8,553.7 954.0,553.2 955.3,553.3 956.5,553.2 957.8,552.2 959.0,550.1 960.3,548.5 961.5,547.5 962.8,546.3 964.0,545.1 965.3,544.4 966.5,542.6 967.8,540.8 969.0,540.2 970.3,539.5 971.5,538.3 972.8,537.2 974.0,536.2 975.3,535.6 976.5,535.7 977.8,535.6 979.0,535.5 980.3,535.6 981.5,535.2 982.8,535.6 984.0,536.8 985.3,537.8 986.5,536.9 987.8,535.5 989.0,535.5 990.3,537.8 991.5,539.7 992.8,540.2 994.0,541.6 995.3,543.1 996.5,545.0 997.8,547.7 999.0,549.4 1000.3,548.7 1001.5,549.4 1002.8,549.8 1004.0,549.0 1005.3,549.6 1006.5,551.9 1007.8,555.8 1009.0,558.8 1010.3,562.2 1011.5,566.2 1012.8,570.1 1014.0,573.7 1015.3,577.5 1016.5,581.2 1017.8,584.3 1019.0,586.2 1020.3,588.8 1021.5,591.8 1022.8,592.4 1024.0,590.6 1025.3,589.0 1026.5,587.1 1027.8,584.2 1029.0,581.1 1030.3,579.8 1031.5,577.9 1032.8,574.9 1034.0,571.8 1035.3,568.8 1036.5,565.6 1037.8,563.4 1039.0,562.3 1040.3,560.7 1041.5,557.8 1042.8,555.0 1044.0,553.1 1045.3,550.8 1046.5,548.0 1047.8,545.3 1049.0,542.3 1050.3,537.7 1051.5,537.0 1052.8,536.6 1054.0,535.9 1055.3,535.3 1056.5,536.9 1057.8,536.0 1059.0,534.1 1060.3,532.5 1061.5,533.5 1062.8,534.7 1064.0,536.2 1065.3,539.1 1066.5,541.3 1067.8,542.1 1069.0,542.9 1070.3,542.9 1071.5,542.7 1072.8,541.6 1074.0,540.7 1075.3,540.2 1076.5,540.0 1077.8,539.4 1079.0,538.4 1080.3,538.4 1081.5,539.1 1082.8,539.4 1084.0,539.2 1085.3,540.1 1086.5,541.2 1087.8,541.9 1089.0,543.0 1090.3,544.3 1091.5,545.3 1092.8,546.2 1094.0,547.6 1095.3,549.5 1096.5,552.1 1097.8,554.7 1099.0,556.3 1100.3,557.2 1101.5,556.7 1102.8,555.3 1104.0,553.3 1105.3,550.8 1106.5,548.9 1107.8,547.6 1109.0,546.7 1110.3,545.8 1111.5,544.2 1112.8,544.3 1114.0,545.6 1115.3,545.2 1116.5,544.7 1117.8,545.2 1119.0,545.7 1120.3,547.5 1121.5,550.0 1122.8,552.2 1124.0,554.3 1125.3,557.0 1126.5,560.2 1127.8,562.5 1129.0,563.5 1130.3,566.1 1131.5,569.7 1132.8,567.8 1134.0,564.4 1135.3,561.2 1136.5,560.8 1137.8,559.3 1139.0,554.3 1140.3,549.5 1141.5,544.8 1142.8,539.4 1144.0,533.5 1145.3,528.0 1146.5,523.8 1147.8,517.2 1149.0,509.7 1150.3,503.8 1151.5,497.7 1152.8,490.6 1154.0,484.8 1155.3,480.2 1156.5,475.9 1157.8,472.1 1159.0,468.2 1160.3,464.6 1161.5,462.1 1162.8,459.8 1163.0,458.0" stroke="#0000ff" stroke-opacity="0.6" stroke-width="4.75"/>
<path d="M115.6,270.8 116.8,269.3 118.1,268.3 119.3,265.5 120.6,262.7 121.8,261.8 123.1,260.9 124.3,260.9 125.6,261.2 126.8,260.4 128.1,259.2 129.3,258.8 130.6,264.6 131.8,266.2 133.1,266.9 134.3,269.4 135.6,273.1 136.8,276.7 138.1,276.2 139.3,274.3 140.6,274.3 141.8,275.9 143.1,276.5 144.3,275.1 145.6,273.9 146.8,273.7 148.1,273.4 149.3,268.8 150.6,267.6 151.8,267.4 153.1,267.1 154.3,266.9 155.6,267.4 156.8,268.0 158.1,268.6 159.3,269.6 160.6,270.6 161.8,272.9 163.1,275.4 164.3,278.3 165.6,281.6 166.8,284.7 168.1,285.9 169.3,287.0 170.6,287.9 171.8,288.3 173.1,289.1 174.3,290.0 175.6,291.5 176.8,294.8 178.1,298.2 179.3,299.7 180.6,301.0 181.8,302.5 183.1,303.8 184.3,303.2 185.6,302.8 186.8,302.6 188.1,302.2 189.3,301.3 190.6,300.3 191.8,299.4 193.1,298.7 194.3,298.3 195.6,297.9 196.8,297.6 198.1,297.5 199.3,297.7 200.6,298.1 201.8,297.4 203.1,296.0 204.3,296.0 205.6,297.3 206.8,298.6 208.1,301.7 209.3,305.3 210.6,307.7 211.8,308.9 213.1,310.2 214.3,311.2 215.6,311.8 216.8,312.3 218.1,313.0 219.3,313.9 220.6,314.9 221.8,315.7 223.1,316.3 224.3,316.7 225.6,317.0 226.8,317.5 228.1,318.0 229.3,318.4 230.6,317.7 231.8,316.8 233.1,316.2 234.3,315.3 235.6,314.5 236.8,313.6 238.1,313.3 239.3,313.0 240.6,312.8 241.8,313.7 243.1,314.5 244.3,315.4 245.6,317.2 246.8,318.8 248.1,319.6 249.3,319.6 250.6,319.7 251.8,321.2 253.1,323.2 254.3,325.2 255.6,327.3 256.8,329.6 258.1,330.9 259.3,331.7 260.6,332.6 261.8,333.7 263.1,334.4 264.3,334.9 265.6,335.5 266.8,336.1 268.1,336.9 269.3,337.4 270.6,338.0 271.8,338.8 273.1,339.9 274.3,341.0 275.6,341.7 276.8,342.0 278.1,342.3 279.3,342.6 280.6,342.5 281.8,342.2 283.1,341.6 284.3,342.2 285.6,343.9 286.8,345.7 288.1,346.9 289.3,348.1 290.6,348.4 291.8,349.1 293.1,351.1 294.3,353.2 295.6,355.5 296.8,358.6 298.1,366.3 299.3,369.7 300.6,372.9 301.8,375.7 303.1,376.9 304.3,377.9 305.6,378.8 306.8,379.9 308.1,381.0 309.3,382.2 310.6,384.6 311.8,385.9 313.1,386.0 314.3,386.2 315.6,384.7 316.8,382.4 318.1,381.2 319.3,381.1 320.6,381.0 321.8,380.3 323.1,379.4 324.3,379.1 325.6,379.6 326.8,379.9 328.1,380.3 329.3,381.0 330.6,381.9 331.8,382.6 333.1,383.2 334.3,384.0 335.6,386.1 336.8,389.0 338.1,390.3 339.3,391.3 340.6,393.8 341.8,397.7 343.1,400.8 344.3,403.9 345.6,405.6 346.8,406.7 348.1,408.1 349.3,409.7 350.6,411.2 351.8,412.4 353.1,413.4 354.3,414.6 355.6,415.7 356.8,417.2 358.1,418.7 359.3,420.0 360.6,419.0 361.8,417.9 363.1,417.4 364.3,418.2 365.6,418.8 366.8,419.2 368.1,419.4 369.3,419.5 370.6,419.6 371.8,418.7 373.1,417.7 374.3,416.8 375.6,418.0 376.8,419.5 378.1,420.6 379.3,420.1 380.6,419.6 381.8,419.4 383.1,420.0 384.3,420.6 385.6,421.3 386.8,422.0 388.1,422.9 389.3,424.0 390.6,424.9 391.8,425.5 393.1,426.3 394.3,426.9 395.6,427.5 396.8,427.9 398.1,428.3 399.3,428.8 400.6,429.1 401.8,429.4 403.1,430.0 404.3,430.4 405.6,430.8 406.8,431.4 408.1,432.1 409.3,432.7 410.6,433.2 411.8,433.8 413.1,434.6 414.3,435.2 415.6,434.8 416.8,434.2 418.1,434.5 419.3,435.8 420.6,436.9 421.8,437.3 423.1,437.8 424.3,438.2 425.6,437.8 426.8,437.4 428.1,437.4 429.3,437.1 430.6,436.5 431.8,436.0 433.1,435.4 434.3,435.5 435.6,435.6 436.8,435.7 438.1,436.3 439.3,436.8 440.6,437.4 441.8,437.9 443.1,438.4 444.3,439.1 445.6,439.6 446.8,440.0 448.1,440.6 449.3,441.1 450.6,441.4 451.8,441.4 453.1,441.6 454.3,441.9 455.6,442.0 456.8,442.0 458.1,442.1 459.3,442.2 460.6,442.2 461.8,442.3 463.1,442.3 464.3,442.3 465.6,442.4 466.8,442.5 468.1,442.3 469.3,442.1 470.6,442.0 471.8,442.1 473.1,442.0 474.3,441.9 475.6,441.7 476.8,441.4 478.1,441.4 479.3,441.6 480.6,441.8 481.8,441.6 483.1,441.3 484.3,441.3 485.6,441.2 486.8,441.3 488.1,441.4 489.3,441.6 490.6,441.8 491.8,442.2 493.1,442.3 494.3,442.4 495.6,442.4 496.8,442.5 498.1,442.7 499.3,442.9 500.6,443.0 501.8,443.1 503.1,443.4 504.3,443.6 505.6,443.6 506.8,443.5 508.1,443.4 509.3,443.5 510.6,443.4 511.8,443.3 513.1,443.3 514.3,443.3 515.6,443.2 516.8,443.2 518.1,443.1 519.3,442.9 520.6,443.0 521.8,443.0 523.1,442.8 524.3,442.8 525.6,442.8 526.8,442.7 528.1,442.6 529.3,442.6 530.6,442.8 531.8,442.9 533.1,443.1 534.3,443.5 535.6,443.5 536.8,443.5 538.1,443.7 539.3,444.0 540.6,444.4 541.8,444.3 543.1,444.4 544.3,444.7 545.6,444.9 546.8,444.8 548.1,444.9 549.3,444.9 550.6,444.9 551.8,444.9 553.1,445.1 554.3,445.1 555.6,444.8 556.8,444.6 558.1,444.5 559.3,444.5 560.6,444.5 561.8,444.5 563.1,444.6 564.3,444.4 565.6,444.2 566.8,444.5 568.1,444.6 569.3,444.7 570.6,444.9 571.8,444.8 573.1,444.8 574.3,444.9 575.6,444.6 576.8,444.2 578.1,443.9 579.3,443.7 580.6,443.6 581.8,443.5 583.1,443.5 584.3,443.6 585.6,443.6 586.8,443.9 588.1,444.5 589.3,445.1 590.6,445.3 591.8,444.7 593.1,444.4 594.3,444.5 595.6,444.8 596.8,444.8 598.1,444.7 599.3,445.0 600.6,445.3 601.8,445.5 603.1,445.4 604.3,445.5 605.6,445.7 606.8,445.7 608.1,445.9 609.3,446.1 610.6,446.2 611.8,446.5 613.1,446.6 614.3,446.4 615.6,446.2 616.8,446.2 618.1,446.4 619.3,446.3 620.6,446.1 621.8,446.1 623.1,446.2 624.3,446.4 625.6,446.3 626.8,446.1 628.1,446.0 629.3,446.4 630.6,446.6 631.8,446.7 633.1,446.8 634.3,446.6 635.6,446.8 636.8,446.8 638.1,446.5 639.3,446.4 640.6,446.3 641.8,446.3 643.1,446.2 644.3,446.0 645.6,445.8 646.8,445.5 648.1,445.6 649.3,445.6 650.6,445.3 651.8,445.0 653.1,444.8 654.3,444.9 655.6,445.0 656.8,445.1 658.1,445.5 659.3,445.7 660.6,445.8 661.8,446.0 663.1,446.1 664.3,445.8 665.6,446.0 666.8,446.4 668.1,446.6 669.3,446.7 670.6,446.7 671.8,446.8 673.1,446.3 674.3,446.0 675.6,446.2 676.8,446.6 678.1,446.8 679.3,446.5 680.6,446.4 681.8,446.1 683.1,445.7 684.3,445.6 685.6,445.6 686.8,445.3 688.1,445.1 689.3,445.3 690.6,445.6 691.8,445.6 693.1,445.6 694.3,445.7 695.6,445.6 696.8,445.8 698.1,445.8 699.3,445.7 700.6,445.6 701.8,445.6 703.1,445.4 704.3,445.3 705.6,445.5 706.8,445.6 708.1,445.6 709.3,445.4 710.6,445.4 711.8,445.6 713.1,445.4 714.3,445.3 715.6,445.3 716.8,445.3 718.1,445.1 719.3,445.0 720.6,444.9 721.8,445.0 723.1,445.4 724.3,445.3 725.6,445.2 726.8,445.1 728.1,445.0 729.3,445.0 730.6,444.6 731.8,444.4 733.1,444.9 734.3,445.2 735.6,445.2 736.8,444.9 738.1,444.9 739.3,444.9 740.6,444.8 741.8,445.1 743.1,445.1 744.3,445.3 745.6,446.0 746.8,445.9 748.1,445.4 749.3,445.3 750.6,445.4 751.8,445.5 753.1,445.2 754.3,444.8 755.6,445.0 756.8,444.8 758.1,444.6 759.3,444.5 760.6,445.0 761.8,445.7 763.1,445.4 764.3,445.4 765.6,445.8 766.8,446.3 768.1,446.3 769.3,446.3 770.6,446.1 771.8,446.4 773.1,446.9 774.3,447.0 775.6,446.9 776.8,447.0 778.1,447.1 779.3,447.0 780.6,446.8 781.8,446.5 783.1,446.3 784.3,446.6 785.6,446.6 786.8,446.6 788.1,446.2 789.3,445.9 790.6,445.8 791.8,445.8 793.1,445.6 794.3,445.6 795.6,445.7 796.8,445.9 798.1,446.3 799.3,446.4 800.6,446.5 801.8,446.8 803.1,447.0 804.3,446.7 805.6,446.3 806.8,446.8 808.1,447.6 809.3,448.2 810.6,448.1 811.8,447.7 813.1,447.8 814.3,447.6 815.6,447.5 816.8,447.9 818.1,448.3 819.3,448.0 820.6,447.7 821.8,447.9 823.1,448.0 824.3,448.1 825.6,448.0 826.8,447.8 828.1,447.6 829.3,447.3 830.6,447.0 831.8,446.9 833.1,446.7 834.3,446.5 835.6,446.7 836.8,446.5 838.1,446.4 839.3,446.5 840.6,446.5 841.8,446.8 843.1,447.3 844.3,447.4 845.6,447.2 846.8,447.2 848.1,447.4 849.3,447.8 850.6,447.9 851.8,447.9 853.1,448.1 854.3,448.4 855.6,448.8 856.8,448.9 858.1,448.8 859.3,448.5 860.6,448.2 861.8,448.6 863.1,449.0 864.3,449.2 865.6,448.8 866.8,448.3 868.1,447.9 869.3,447.7 870.6,447.6 871.8,447.2 873.1,447.2 874.3,446.6 875.6,445.9 876.8,445.7 878.1,446.1 879.3,446.6 880.6,446.4 881.8,445.5 883.1,445.3 884.3,445.2 885.6,445.1 886.8,444.9 888.1,444.7 889.3,444.8 890.6,444.8 891.8,445.1 893.1,445.2 894.3,445.2 895.6,445.1 896.8,444.5 898.1,444.5 899.3,444.7 900.6,444.5 901.8,444.5 903.1,444.8 904.3,444.8 905.6,444.6 906.8,444.4 908.1,444.4 909.3,444.5 910.6,444.7 911.8,444.7 913.1,445.0 914.3,445.1 915.6,445.4 916.8,445.6 918.1,445.5 919.3,445.7 920.6,446.1 921.8,445.9 923.1,446.0 924.3,446.5 925.6,446.6 926.8,446.6 928.1,447.0 929.3,447.2 930.6,447.0 931.8,447.1 933.1,446.6 934.3,445.8 935.6,445.4 936.8,445.1 938.1,445.2 939.3,445.3 940.6,445.6 941.8,445.0 943.1,444.6 944.3,444.4 945.6,443.8 946.8,443.5 948.1,443.8 949.3,444.0 950.6,443.7 951.8,443.1 953.1,443.1 954.3,443.2 955.6,443.1 956.8,442.8 958.1,442.6 959.3,442.5 960.6,442.1 961.8,442.0 963.1,441.8 964.3,441.7 965.6,441.7 966.8,441.8 968.1,441.9 969.3,441.8 970.6,442.0 971.8,441.5 973.1,441.0 974.3,441.3 975.6,441.3 976.8,441.2 978.1,441.4 979.3,441.9 980.6,442.0 981.8,441.6 983.1,441.1 984.3,441.2 985.6,441.6 986.8,441.8 988.1,441.9 989.3,441.7 990.6,441.8 991.8,442.1 993.1,442.6 994.3,443.0 995.6,443.3 996.8,443.9 998.1,445.1 999.3,446.1 1000.6,446.8 1001.8,448.0 1003.1,448.9 1004.3,449.5 1005.6,450.0 1006.8,450.6 1008.1,451.0 1009.3,451.6 1010.6,452.2 1011.8,452.5 1013.1,452.6 1014.3,453.0 1015.6,452.9 1016.8,453.1 1018.1,453.4 1019.3,453.2 1020.6,453.1 1021.8,453.6 1023.1,454.1 1024.3,454.3 1025.6,454.5 1026.8,454.5 1028.1,454.4 1029.3,454.5 1030.6,454.6 1031.8,455.0 1033.1,455.1 1034.3,455.4 1035.6,455.9 1036.8,455.8 1038.1,455.6 1039.3,455.8 1040.6,455.9 1041.8,455.9 1043.1,455.3 1044.3,454.8 1045.6,454.7 1046.8,454.4 1048.1,455.0 1049.3,455.7 1050.6,456.3 1051.8,456.6 1053.1,456.7 1054.3,456.5 1055.6,455.7 1056.8,454.8 1058.1,453.6 1059.3,452.3 1060.6,451.5 1061.8,450.9 1063.1,450.5 1064.3,450.1 1065.6,449.9 1066.8,449.7 1068.1,449.5 1069.3,449.5 1070.6,448.7 1071.8,447.7 1073.1,447.2 1074.3,447.6 1075.6,447.4 1076.8,447.0 1078.1,447.1 1079.3,447.5 1080.6,447.8 1081.8,447.9 1083.1,448.4 1084.3,448.9 1085.6,449.2 1086.8,449.8 1088.1,450.2 1089.3,451.0 1090.6,451.7 1091.8,452.2 1093.1,452.5 1094.3,452.8 1095.6,453.6 1096.8,454.1 1098.1,454.5 1099.3,455.5 1100.6,457.2 1101.8,459.5 1103.1,462.0 1104.3,464.2 1105.6,465.6 1106.8,464.0 1108.1,462.7 1109.3,461.4 1110.6,460.3 1111.8,459.4 1113.1,458.8 1114.3,458.1 1115.6,457.2 1116.8,456.4 1118.1,454.9 1119.3,452.7 1120.6,449.8 1121.8,445.1 1123.1,442.7 1124.3,441.3 1125.6,441.0 1126.8,442.1 1128.1,442.7 1129.3,443.0 1130.6,443.0 1131.8,443.2 1133.1,444.3 1134.3,444.9 1135.6,445.1 1136.8,446.0 1138.1,447.1 1139.3,448.1 1140.6,451.4 1141.8,455.5 1143.1,461.3 1144.3,466.9 1145.6,473.2 1146.8,478.4 1148.1,483.1 1149.3,487.4 1150.6,489.4 1151.8,489.1 1153.1,489.6 1154.3,492.1 1155.6,494.1 1156.8,496.9 1158.1,500.3 1159.3,503.6 1160.6,506.6 1161.8,509.1 1163.1,512.3 1163.9,514.4" stroke="#ffa500" stroke-opacity="0.9" stroke-width="4.75"/>
<path d="M116.5,122.2 117.8,121.5 119.0,120.8 120.3,120.3 121.5,120.4 122.8,121.4 124.0,124.3 125.3,125.4 126.5,125.4 127.8,125.5 129.0,125.8 130.3,126.3 131.5,126.6 132.8,125.9 134.0,123.9 135.3,121.7 136.5,120.3 137.8,121.7 139.0,122.8 140.3,124.0 141.5,124.6 142.8,125.1 144.0,126.8 145.3,130.2 146.5,137.4 147.8,141.6 149.0,145.1 150.3,147.7 151.5,150.1 152.8,153.4 154.0,157.9 155.3,159.8 156.5,160.5 157.8,160.8 159.0,161.9 160.3,163.1 161.5,162.3 162.8,161.1 164.0,160.1 165.3,157.1 166.5,153.4 167.8,152.9 169.0,154.4 170.3,155.8 171.5,155.7 172.8,153.7 174.0,152.3 175.3,151.6 176.5,150.9 177.8,150.5 179.0,152.7 180.3,155.4 181.5,158.3 182.8,156.8 184.0,155.3 185.3,154.0 186.5,152.9 187.8,151.9 189.0,151.1 190.3,151.0 191.5,152.3 192.8,153.9 194.0,154.0 195.3,153.4 196.5,152.9 197.8,153.4 199.0,153.7 200.3,151.3 201.5,149.1 202.8,147.0 204.0,147.7 205.3,148.2 206.5,147.7 207.8,146.4 209.0,145.5 210.3,147.6 211.5,149.4 212.8,151.3 214.0,151.9 215.3,152.3 216.5,151.0 217.8,150.9 219.0,152.5 220.3,154.6 221.5,157.1 222.8,158.7 224.0,159.4 225.3,159.9 226.5,161.0 227.8,162.4 229.0,161.2 230.3,158.9 231.5,159.4 232.8,160.8 234.0,162.9 235.3,164.4 236.5,165.5 237.8,166.5 239.0,169.6 240.3,172.8 241.5,176.7 242.8,182.8 244.0,188.4 245.3,189.1 246.5,190.1 247.8,191.4 249.0,192.5 250.3,193.5 251.5,194.3 252.8,195.3 254.0,196.1 255.3,196.8 256.5,197.3 257.8,197.9 259.0,197.1 260.3,196.0 261.5,194.8 262.8,195.8 264.0,197.0 265.3,198.1 266.5,199.5 267.8,201.4 269.0,203.2 270.3,204.8 271.5,207.0 272.8,209.1 274.0,211.0 275.3,213.4 276.5,215.8 277.8,217.0 279.0,218.1 280.3,219.1 281.5,219.7 282.8,220.7 284.0,222.9 285.3,224.8 286.5,226.6 287.8,228.5 289.0,230.1 290.3,231.6 291.5,235.3 292.8,238.4 294.0,240.1 295.3,241.2 296.5,241.0 297.8,240.8 299.0,240.9 300.3,240.8 301.5,241.6 302.8,242.5 304.0,243.5 305.3,244.4 306.5,247.2 307.8,248.8 309.0,249.8 310.3,250.1 311.5,250.7 312.8,253.1 314.0,254.0 315.3,253.5 316.5,253.0 317.8,254.3 319.0,256.0 320.3,257.0 321.5,257.6 322.8,256.4 324.0,252.4 325.3,248.2 326.5,246.2 327.8,245.2 329.0,244.2 330.3,243.1 331.5,241.4 332.8,241.1 334.0,242.8 335.3,244.9 336.5,247.6 337.8,248.8 339.0,249.9 340.3,251.4 341.5,256.7 342.8,262.1 344.0,267.9 345.3,274.4 346.5,278.8 347.8,282.6 349.0,286.3 350.3,289.7 351.5,291.1 352.8,292.3 354.0,293.8 355.3,295.9 356.5,297.8 357.8,299.6 359.0,301.3 360.3,302.8 361.5,304.5 362.8,306.2 364.0,307.3 365.3,308.1 366.5,308.7 367.8,310.5 369.0,312.7 370.3,315.2 371.5,318.0 372.8,320.3 374.0,321.9 375.3,323.4 376.5,325.1 377.8,326.4 379.0,326.0 380.3,325.4 381.5,324.7 382.8,325.2 384.0,326.0 385.3,326.5 386.5,325.9 387.8,325.1 389.0,324.0 390.3,323.4 391.5,323.5 392.8,323.6 394.0,323.8 395.3,325.6 396.5,327.4 397.8,329.8 399.0,331.8 400.3,333.2 401.5,334.5 402.8,335.4 404.0,336.3 405.3,337.1 406.5,338.1 407.8,339.3 409.0,342.8 410.3,347.4 411.5,347.9 412.8,348.4 414.0,349.1 415.3,350.1 416.5,351.9 417.8,353.6 419.0,355.6 420.3,357.2 421.5,358.6 422.8,360.2 424.0,361.2 425.3,361.6 426.5,361.8 427.8,361.6 429.0,360.7 430.3,359.9 431.5,359.1 432.8,357.9 434.0,354.5 435.3,351.1 436.5,349.0 437.8,348.5 439.0,347.9 440.3,347.6 441.5,348.1 442.8,349.6 444.0,350.9 445.3,352.2 446.5,353.5 447.8,354.8 449.0,356.0 450.3,357.5 451.5,359.2 452.8,360.9 454.0,363.0 455.3,365.8 456.5,368.3 457.8,370.1 459.0,372.1 460.3,373.8 461.5,374.7 462.8,375.6 464.0,376.5 465.3,377.2 466.5,377.6 467.8,378.2 469.0,379.0 470.3,379.6 471.5,380.2 472.8,380.6 474.0,381.3 475.3,381.6 476.5,381.7 477.8,382.2 479.0,382.7 480.3,382.7 481.5,383.2 482.8,383.5 484.0,383.7 485.3,383.9 486.5,384.8 487.8,386.2 489.0,387.5 490.3,388.4 491.5,389.5 492.8,390.6 494.0,391.5 495.3,392.4 496.5,393.5 497.8,394.6 499.0,395.7 500.3,395.7 501.5,395.1 502.8,394.3 504.0,393.2 505.3,393.5 506.5,395.3 507.8,397.2 509.0,398.4 510.3,398.5 511.5,398.8 512.8,398.9 514.0,399.4 515.3,399.8 516.5,401.0 517.8,402.4 519.0,403.9 520.3,405.7 521.5,407.5 522.8,408.7 524.0,409.5 525.3,410.4 526.5,411.2 527.8,411.8 529.0,412.6 530.3,413.6 531.5,414.1 532.8,414.2 534.0,414.9 535.3,415.8 536.5,416.9 537.8,418.0 539.0,419.3 540.3,422.5 541.5,425.4 542.8,426.6 544.0,427.9 545.3,429.3 546.5,429.3 547.8,429.3 549.0,429.0 550.3,428.8 551.5,429.2 552.8,429.7 554.0,430.2 555.3,430.7 556.5,431.1 557.8,431.7 559.0,432.4 560.3,432.6 561.5,432.6 562.8,433.0 564.0,433.5 565.3,433.6 566.5,434.6 567.8,436.6 569.0,438.1 570.3,439.6 571.5,441.6 572.8,442.3 574.0,442.7 575.3,442.5 576.5,442.1 577.8,441.5 579.0,441.1 580.3,441.2 581.5,441.7 582.8,441.6 584.0,441.8 585.3,442.2 586.5,442.7 587.8,442.4 589.0,441.8 590.3,441.6 591.5,441.2 592.8,441.2 594.0,442.0 595.3,442.7 596.5,443.3 597.8,444.0 599.0,445.4 600.3,446.6 601.5,447.6 602.8,448.4 604.0,448.7 605.3,449.3 606.5,450.4 607.8,450.9 609.0,451.2 610.3,450.6 611.5,450.5 612.8,450.4 614.0,450.2 615.3,450.5 616.5,451.0 617.8,451.2 619.0,451.1 620.3,450.8 621.5,451.0 622.8,451.7 624.0,452.1 625.3,452.6 626.5,452.4 627.8,451.5 629.0,450.2 630.3,449.8 631.5,451.3 632.8,452.7 634.0,453.3 635.3,453.7 636.5,453.2 637.8,453.0 639.0,452.2 640.3,450.8 641.5,450.5 642.8,450.6 644.0,450.0 645.3,449.5 646.5,449.8 647.8,449.9 649.0,449.9 650.3,449.4 651.5,449.5 652.8,450.3 654.0,450.6 655.3,450.9 656.5,451.4 657.8,451.7 659.0,451.8 660.3,452.2 661.5,451.6 662.8,450.3 664.0,449.1 665.3,448.3 666.5,448.2 667.8,448.5 669.0,448.8 670.3,448.7 671.5,449.0 672.8,450.1 674.0,450.3 675.3,450.4 676.5,450.4 677.8,450.7 679.0,450.8 680.3,450.8 681.5,451.1 682.8,451.4 684.0,451.5 685.3,451.4 686.5,451.5 687.8,450.9 689.0,451.3 690.3,451.1 691.5,450.9 692.8,451.4 694.0,451.1 695.3,450.4 696.5,450.2 697.8,450.5 699.0,450.7 700.3,450.5 701.5,450.7 702.8,452.4 704.0,453.0 705.3,452.2 706.5,452.2 707.8,451.8 709.0,451.1 710.3,451.2 711.5,450.9 712.8,451.4 714.0,452.1 715.3,452.0 716.5,451.5 717.8,451.4 719.0,452.0 720.3,452.0 721.5,451.5 722.8,452.1 724.0,453.2 725.3,453.4 726.5,453.7 727.8,454.3 729.0,453.4 730.3,452.5 731.5,452.7 732.8,451.6 734.0,451.8 735.3,452.4 736.5,452.1 737.8,452.2 739.0,453.2 740.3,453.4 741.5,452.2 742.8,451.8 744.0,451.5 745.3,450.4 746.5,449.5 747.8,449.8 749.0,450.0 750.3,450.1 751.5,450.1 752.8,449.9 754.0,449.8 755.3,450.5 756.5,451.6 757.8,451.4 759.0,451.0 760.3,451.2 761.5,451.2 762.8,450.9 764.0,451.3 765.3,451.2 766.5,451.9 767.8,451.9 769.0,451.5 770.3,452.0 771.5,452.5 772.8,452.5 774.0,451.6 775.3,451.2 776.5,451.5 777.8,451.5 779.0,451.2 780.3,450.6 781.5,450.4 782.8,450.3 784.0,450.7 785.3,451.4 786.5,451.1 787.8,450.2 789.0,450.1 790.3,449.8 791.5,449.5 792.8,449.9 794.0,450.2 795.3,450.0 796.5,450.2 797.8,450.6 799.0,450.9 800.3,451.2 801.5,450.7 802.8,450.2 804.0,450.7 805.3,450.8 806.5,450.9 807.8,451.4 809.0,451.6 810.3,451.0 811.5,451.4 812.8,451.8 814.0,451.6 815.3,451.3 816.5,451.6 817.8,452.4 819.0,452.3 820.3,452.2 821.5,452.5 822.8,452.1 824.0,451.3 825.3,451.4 826.5,451.5 827.8,451.2 829.0,451.1 830.3,451.3 831.5,451.3 832.8,450.7 834.0,449.5 835.3,449.6 836.5,450.5 837.8,451.4 839.0,451.5 840.3,451.5 841.5,450.9 842.8,450.9 844.0,452.1 845.3,452.9 846.5,453.7 847.8,453.9 849.0,453.9 850.3,454.6 851.5,455.3 852.8,455.4 854.0,455.3 855.3,455.8 856.5,456.6 857.8,456.8 859.0,457.0 860.3,456.9 861.5,456.5 862.8,455.9 864.0,455.9 865.3,455.6 866.5,455.0 867.8,454.2 869.0,453.8 870.3,454.0 871.5,455.4 872.8,456.5 874.0,456.3 875.3,455.7 876.5,455.1 877.8,455.3 879.0,456.2 880.3,456.1 881.5,456.5 882.8,456.9 884.0,456.0 885.3,456.1 886.5,456.6 887.8,457.0 889.0,457.1 890.3,456.7 891.5,456.8 892.8,456.5 894.0,456.3 895.3,456.6 896.5,457.2 897.8,457.2 899.0,456.9 900.3,457.0 901.5,457.3 902.8,457.4 904.0,457.9 905.3,458.5 906.5,458.6 907.8,458.6 909.0,459.0 910.3,459.4 911.5,459.0 912.8,458.9 914.0,459.4 915.3,459.3 916.5,459.7 917.8,459.9 919.0,459.8 920.3,460.0 921.5,459.9 922.8,459.8 924.0,460.7 925.3,461.3 926.5,462.0 927.8,462.9 929.0,462.8 930.3,462.8 931.5,464.4 932.8,465.6 934.0,466.6 935.3,466.8 936.5,467.5 937.8,468.6 939.0,468.8 940.3,468.7 941.5,468.5 942.8,468.0 944.0,467.3 945.3,467.0 946.5,467.3 947.8,467.5 949.0,467.4 950.3,467.3 951.5,467.5 952.8,467.4 954.0,467.9 955.3,468.7 956.5,470.2 957.8,471.2 959.0,472.0 960.3,473.4 961.5,473.2 962.8,473.4 964.0,473.9 965.3,474.3 966.5,474.9 967.8,475.4 969.0,475.8 970.3,475.7 971.5,475.5 972.8,475.2 974.0,475.0 975.3,474.3 976.5,473.5 977.8,473.1 979.0,475.1 980.3,477.6 981.5,480.3 982.8,481.4 984.0,482.2 985.3,483.2 986.5,483.8 987.8,482.9 989.0,482.5 990.3,483.1 991.5,483.9 992.8,484.9 994.0,486.1 995.3,487.6 996.5,488.3 997.8,487.9 999.0,487.2 1000.3,487.9 1001.5,489.5 1002.8,491.5 1004.0,493.5 1005.3,496.0 1006.5,499.4 1007.8,503.0 1009.0,505.6 1010.3,507.5 1011.5,508.9 1012.8,511.7 1014.0,514.4 1015.3,514.7 1016.5,514.7 1017.8,514.7 1019.0,515.3 1020.3,515.7 1021.5,516.2 1022.8,516.6 1024.0,516.7 1025.3,515.5 1026.5,513.7 1027.8,512.7 1029.0,511.5 1030.3,511.9 1031.5,511.8 1032.8,512.4 1034.0,515.4 1035.3,518.6 1036.5,522.1 1037.8,524.4 1039.0,526.1 1040.3,527.8 1041.5,528.1 1042.8,529.3 1044.0,530.3 1045.3,532.0 1046.5,533.9 1047.8,535.9 1049.0,538.2 1050.3,542.6 1051.5,543.5 1052.8,543.4 1054.0,541.9 1055.3,539.1 1056.5,537.1 1057.8,535.9 1059.0,533.6 1060.3,531.6 1061.5,531.6 1062.8,532.8 1064.0,533.6 1065.3,533.5 1066.5,532.7 1067.8,532.7 1069.0,532.4 1070.3,531.8 1071.5,531.3 1072.8,530.7 1074.0,531.1 1075.3,533.9 1076.5,536.5 1077.8,538.8 1079.0,540.7 1080.3,543.3 1081.5,546.9 1082.8,550.0 1084.0,552.4 1085.3,555.0 1086.5,557.5 1087.8,562.1 1089.0,567.5 1090.3,572.2 1091.5,576.1 1092.8,579.5 1094.0,582.7 1095.3,585.8 1096.5,587.8 1097.8,588.4 1099.0,589.7 1100.3,592.3 1101.5,594.9 1102.8,596.0 1104.0,596.8 1105.3,597.1 1106.5,595.6 1107.8,593.5 1109.0,593.2 1110.3,594.5 1111.5,595.3 1112.8,596.7 1114.0,598.8 1115.3,600.1 1116.5,598.8 1117.8,597.7 1119.0,596.5 1120.3,594.2 1121.5,591.3 1122.8,590.0 1124.0,589.0 1125.3,587.6 1126.5,586.3 1127.8,584.9 1129.0,583.9 1130.3,582.6 1131.5,580.8 1132.8,578.8 1134.0,576.9 1135.3,573.9 1136.5,570.5 1137.8,567.4 1139.0,563.8 1140.3,561.1 1141.5,557.2 1142.8,553.1 1144.0,549.8 1145.3,545.5 1146.5,540.4 1147.8,534.1 1149.0,528.6 1150.3,522.3 1151.5,513.4 1152.8,505.4 1154.0,500.0 1155.3,494.3 1156.5,489.9 1157.8,487.8 1159.0,485.1 1160.3,482.5 1161.5,479.8 1162.8,477.9 1163.0,478.0" stroke="#008080" stroke-opacity="0.6" stroke-width="4.75"/>
</g>
<path d="M116.32 645.4v4.5M182.55 645.4v4.5M229.53 645.4v4.5M265.98 645.4v4.5M295.76 645.4v4.5M320.94 645.4v4.5M342.75 645.4v4.5M361.99 645.4v4.5M379.20 645.4v8.0M492.42 645.4v4.5M558.65 645.4v4.5M605.63 645.4v4.5M642.08 645.4v4.5M671.86 645.4v4.5M697.04 645.4v4.5M718.85 645.4v4.5M738.09 645.4v4.5M755.30 645.4v8.0M868.52 645.4v4.5M934.75 645.4v4.5M981.73 645.4v4.5M1018.18 645.4v4.5M1047.96 645.4v4.5M1073.14 645.4v4.5M1094.95 645.4v4.5M1114.19 645.4v4.5M1131.40 645.4v8.0M116.6 51.57h-8.3M116.6 150.84h-8.3M116.6 250.11h-8.3M116.6 349.38h-8.3M116.6 448.65h-8.3M116.6 547.92h-8.3" stroke="#000" stroke-width="1.9" fill="none"/>
<path d="M116.6 -5V645.4H1161.4V-5" stroke="#000" stroke-width="1.9" fill="none" stroke-linejoin="miter"/>
<rect x="870.6" y="9.2" width="279.4" height="178.7" rx="4.6" ry="4.6" fill="#fff" fill-opacity="0.8" stroke="#cccccc" stroke-opacity="0.8" stroke-width="1.95"/>
<path d="M876.9 27.8H928.3" stroke="#ff0000" stroke-opacity="0.6" stroke-width="4.75" fill="none"/>
<path d="M876.9 62.4H928.3" stroke="#800080" stroke-opacity="0.6" stroke-width="4.75" fill="none"/>
<path d="M876.9 96.9H928.3" stroke="#0000ff" stroke-opacity="0.6" stroke-width="4.75" fill="none"/>
<path d="M876.9 131.5H928.3" stroke="#ffa500" stroke-opacity="0.9" stroke-width="4.75" fill="none"/>
<path d="M876.9 166.1H928.3" stroke="#008080" stroke-opacity="0.6" stroke-width="4.75" fill="none"/>
<g opacity="0.999">
<text transform="translate(70.72 60.37) rotate(0.03)" font-size="24.30" textLength="28.98" lengthAdjust="spacingAndGlyphs">80</text>
<text transform="translate(70.50 159.64) rotate(0.03)" font-size="24.30" textLength="29.22" lengthAdjust="spacingAndGlyphs">60</text>
<text transform="translate(71.50 258.91) rotate(0.03)" font-size="24.30" textLength="28.29" lengthAdjust="spacingAndGlyphs">40</text>
<text transform="translate(70.48 358.18) rotate(0.03)" font-size="24.30" textLength="29.29" lengthAdjust="spacingAndGlyphs">20</text>
<text transform="translate(85.16 457.45) rotate(0.03)" font-size="24.30" textLength="14.66" lengthAdjust="spacingAndGlyphs">0</text>
<text transform="translate(51.59 556.72) rotate(0.03)" font-size="24.30" textLength="17.97" lengthAdjust="spacingAndGlyphs">−</text>
<text transform="translate(70.67 556.72) rotate(0.03)" font-size="24.30" textLength="29.45" lengthAdjust="spacingAndGlyphs">20</text>
<text transform="translate(360.39 679.60) rotate(0.03)" font-size="25.20" textLength="28.86" lengthAdjust="spacingAndGlyphs">10</text>
<text transform="translate(389.95 670.60) rotate(0.03)" font-size="17.00" textLength="9.95" lengthAdjust="spacingAndGlyphs">2</text>
<text transform="translate(736.60 679.60) rotate(0.03)" font-size="25.20" textLength="28.60" lengthAdjust="spacingAndGlyphs">10</text>
<text transform="translate(766.32 670.60) rotate(0.03)" font-size="17.00" textLength="9.70" lengthAdjust="spacingAndGlyphs">3</text>
<text transform="translate(1112.69 679.60) rotate(0.03)" font-size="25.20" textLength="28.65" lengthAdjust="spacingAndGlyphs">10</text>
<text transform="translate(1141.84 670.60) rotate(0.03)" font-size="17.00" textLength="9.84" lengthAdjust="spacingAndGlyphs">4</text>
<text transform="translate(550.10 711.90) rotate(0.03)" font-size="23.80" textLength="177.17" lengthAdjust="spacingAndGlyphs">Frequency (Hz)</text>
<text transform="translate(36.50 411.45) rotate(-90)" font-size="23.80" textLength="180.31" lengthAdjust="spacingAndGlyphs">Magnitude (dB)</text>
<text transform="translate(944.42 36.05) rotate(0.03)" font-size="23.80" textLength="122.57" lengthAdjust="spacingAndGlyphs">FreqCodec</text>
<text transform="translate(944.13 70.65) rotate(0.03)" font-size="23.80" textLength="195.72" lengthAdjust="spacingAndGlyphs">SpeechTokenizer</text>
<text transform="translate(944.42 105.15) rotate(0.03)" font-size="23.80" textLength="123.75" lengthAdjust="spacingAndGlyphs">HiFi-Codec</text>
<text transform="translate(944.47 139.75) rotate(0.03)" font-size="23.80" textLength="50.03" lengthAdjust="spacingAndGlyphs">DAC</text>
<text transform="translate(944.49 174.35) rotate(0.03)" font-size="23.80" textLength="102.95" lengthAdjust="spacingAndGlyphs">EnCodec</text>
</g>
</svg></body></html>
